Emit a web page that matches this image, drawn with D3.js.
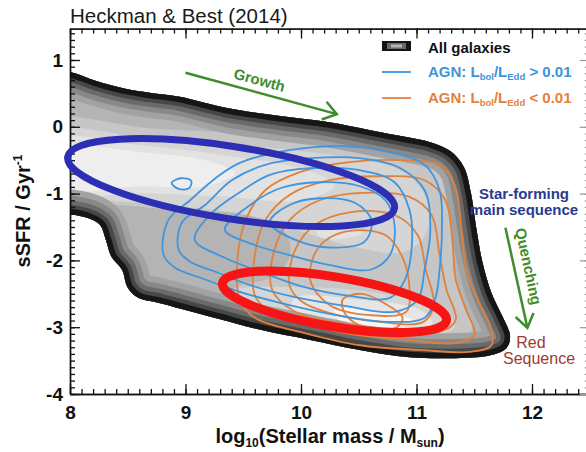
<!DOCTYPE html>
<html>
<head>
<meta charset="utf-8" />
<title>Heckman &amp; Best (2014)</title>
<script src="https://cdn.jsdelivr.net/npm/d3@7"></script>
<style>
  body { margin: 0; background: #fff; }
  svg { display: block; font-family: "Liberation Sans", Arial, Helvetica, sans-serif; }
</style>
</head>
<body>
<svg id="chart" width="586" height="452"></svg>
<script>
// axis ticks
var massTicks = [8, 9, 10, 11, 12];
var ssfrTicks = [-4, -3, -2, -1, 0, 1];

// outline of the all-galaxies density (log M*, log sSFR)
var galaxyEdge = [[7.70,0.86],[8.00,0.82],[8.22,0.69],[8.48,0.57],[8.69,0.51],[8.95,0.45],[9.36,0.28],[9.82,0.16],[10.23,0.07],[10.60,-0.05],[10.90,-0.15],[11.12,-0.23],[11.29,-0.36],[11.41,-0.60],[11.47,-0.98],[11.52,-1.54],[11.57,-2.02],[11.65,-2.49],[11.75,-2.86],[11.81,-3.13],[11.78,-3.31],[11.64,-3.42],[11.38,-3.46],[10.94,-3.45],[10.51,-3.34],[10.08,-3.19],[9.65,-3.04],[9.30,-2.88],[9.04,-2.76],[8.78,-2.64],[8.59,-2.56],[8.50,-2.41],[8.45,-2.14],[8.36,-1.95],[8.31,-1.69],[8.26,-1.47],[8.16,-1.37],[8.00,-1.31],[7.70,-1.27]];

// lighter (denser) levels inside it
var denseWide = [[7.70,0.07],[8.69,-0.02],[9.56,-0.11],[10.42,-0.24],[11.03,-0.45],[11.23,-0.77],[11.29,-1.40],[11.33,-2.14],[11.41,-2.71],[11.48,-3.04],[11.20,-3.19],[10.68,-3.15],[10.16,-3.01],[9.66,-2.83],[9.34,-2.64],[9.43,-2.41],[9.73,-2.26],[9.90,-1.96],[9.86,-1.57],[9.52,-1.32],[8.95,-1.25],[8.43,-1.17],[7.70,-1.10]];
var denseStarForming = [[7.70,-0.08],[8.69,-0.17],[9.56,-0.29],[10.34,-0.44],[10.86,-0.65],[11.07,-1.02],[11.09,-1.57],[10.90,-1.87],[10.47,-1.80],[10.10,-1.62],[9.60,-1.34],[8.95,-1.19],[8.26,-1.10],[7.70,-1.05]];
var denseRedSeq = [[9.40,-2.47],[9.99,-2.40],[10.68,-2.49],[11.20,-2.71],[11.33,-3.00],[11.03,-3.15],[10.42,-3.07],[9.82,-2.89],[9.46,-2.68]];
var ridgeStarForming = [[7.70,-0.20],[8.69,-0.29],[9.39,-0.44],[9.99,-0.62],[10.29,-0.87],[10.03,-1.10],[9.30,-1.04],[8.61,-0.99],[7.70,-0.98]];
var peakStarForming = [[7.70,-0.32],[8.61,-0.38],[9.17,-0.50],[9.43,-0.69],[9.17,-0.89],[8.61,-0.89],[7.70,-0.92]];
var ridgeRedSeq = [[9.95,-2.56],[10.51,-2.59],[11.03,-2.74],[11.14,-2.95],[10.73,-3.04],[10.16,-2.91],[9.92,-2.74]];
var peakRedSeq = [[10.29,-2.74],[10.81,-2.80],[10.99,-2.92],[10.68,-3.00],[10.33,-2.89]];
var greenValleySpot = [[10.15,-1.51],[10.38,-1.48],[10.53,-1.59],[10.34,-1.68],[10.15,-1.63]];

// AGN with L_bol/L_Edd > 0.01, outer to inner
var agnHigh = [
  [[8.81,-1.92],[8.85,-1.40],[9.04,-1.10],[9.26,-0.77],[9.47,-0.54],[9.90,-0.35],[10.38,-0.29],[10.77,-0.38],[11.07,-0.57],[11.20,-0.95],[11.22,-1.54],[11.20,-2.14],[11.16,-2.59],[11.07,-2.86],[10.77,-2.92],[10.34,-2.83],[9.90,-2.67],[9.47,-2.47],[9.13,-2.26],[8.91,-2.11]],
  [[8.94,-1.84],[8.97,-1.43],[9.17,-1.17],[9.40,-0.80],[9.69,-0.57],[10.08,-0.47],[10.51,-0.47],[10.86,-0.62],[11.07,-0.95],[11.12,-1.54],[11.07,-2.14],[11.01,-2.59],[10.81,-2.77],[10.38,-2.68],[9.95,-2.55],[9.56,-2.37],[9.26,-2.17],[9.04,-2.02]],
  [[9.08,-1.69],[9.21,-1.32],[9.47,-0.98],[9.73,-0.72],[10.08,-0.62],[10.51,-0.65],[10.81,-0.83],[10.94,-1.25],[10.96,-1.77],[10.90,-2.29],[10.77,-2.56],[10.42,-2.53],[9.99,-2.38],[9.65,-2.17],[9.34,-1.96]],
  [[9.34,-1.54],[9.56,-1.17],[9.82,-0.92],[10.16,-0.83],[10.51,-0.89],[10.73,-1.10],[10.81,-1.47],[10.77,-1.92],[10.60,-2.14],[10.25,-2.07],[9.90,-1.92],[9.60,-1.77]],
  [[9.73,-1.43],[9.90,-1.17],[10.16,-1.07],[10.47,-1.14],[10.61,-1.40],[10.55,-1.72],[10.29,-1.81],[9.99,-1.72]],
  [[8.88,-0.84],[8.96,-0.77],[9.05,-0.81],[9.03,-0.92],[8.94,-0.93]]
];

// AGN with L_bol/L_Edd < 0.01, outer to inner
var agnLow = [
  [[9.47,-2.59],[9.45,-1.99],[9.52,-1.40],[9.69,-0.95],[9.99,-0.68],[10.42,-0.53],[10.86,-0.50],[11.20,-0.57],[11.33,-0.87],[11.39,-1.54],[11.43,-2.14],[11.53,-2.59],[11.64,-3.00],[11.65,-3.27],[11.46,-3.37],[11.03,-3.34],[10.51,-3.27],[9.99,-3.07],[9.60,-2.86]],
  [[9.60,-2.52],[9.60,-1.92],[9.69,-1.40],[9.90,-1.02],[10.25,-0.80],[10.68,-0.74],[11.07,-0.80],[11.25,-1.10],[11.31,-1.69],[11.34,-2.29],[11.43,-2.74],[11.50,-3.12],[11.33,-3.24],[10.94,-3.19],[10.42,-3.10],[9.99,-2.92],[9.71,-2.74]],
  [[9.75,-2.44],[9.77,-1.84],[9.90,-1.40],[10.16,-1.10],[10.55,-0.99],[10.94,-1.05],[11.13,-1.32],[11.20,-1.92],[11.26,-2.44],[11.34,-2.89],[11.20,-3.07],[10.86,-3.04],[10.34,-2.94],[9.95,-2.77]],
  [[9.90,-2.37],[9.95,-1.84],[10.12,-1.47],[10.42,-1.28],[10.81,-1.32],[11.01,-1.62],[11.08,-2.14],[11.15,-2.67],[11.06,-2.92],[10.68,-2.92],[10.25,-2.79],[10.01,-2.62]],
  [[10.08,-2.29],[10.15,-1.81],[10.38,-1.57],[10.73,-1.62],[10.88,-1.96],[10.94,-2.44],[10.91,-2.77],[10.60,-2.82],[10.25,-2.67]],
  [[10.36,-2.59],[10.53,-2.50],[10.73,-2.65],[10.88,-2.86],[10.82,-3.01],[10.56,-3.00],[10.39,-2.82]]
];

// highlighted regions: two ends of the long axis + half width (dex)
var mainSequenceRing = [[7.98,-0.45],[10.81,-1.22]];
var mainSequenceHalf = 0.54;
var redSequenceRing = [[9.32,-2.34],[11.26,-2.90]];
var redSequenceHalf = 0.37;

var growthArrow = [[9.00,0.81],[10.31,0.19]];
var quenchArrow = [[11.77,-1.51],[11.96,-3.01]];

function draw() {
  var svg = d3.select('#chart');
  var font = '"Liberation Sans", Arial, Helvetica, sans-serif';

  var x = d3.scaleLinear().domain([8, 12.5]).range([70, 589.75]);
  var y = d3.scaleLinear().domain([-4, 1.47]).range([394, 28.6]);

  var blob = d3.line()
    .x(function (d) { return x(d[0]); })
    .y(function (d) { return y(d[1]); })
    .curve(d3.curveCatmullRomClosed.alpha(0.5));

  var defs = svg.append('defs');
  defs.append('clipPath').attr('id', 'plotClip').append('rect')
    .attr('x', x(8)).attr('y', y(1.47))
    .attr('width', x(12.5) - x(8)).attr('height', y(-4) - y(1.47));
  defs.append('clipPath').attr('id', 'edgeClip').append('path').attr('d', blob(galaxyEdge));

  var plot = svg.append('g').attr('clip-path', 'url(#plotClip)');
  var dens = plot.append('g').attr('clip-path', 'url(#edgeClip)');

  // all galaxies, filled levels
  dens.append('path').attr('d', blob(galaxyEdge)).attr('fill', '#b4b4b4');
  var levels = [
    [denseWide, '#c6c6c6'], [denseStarForming, '#d5d5d5'], [denseRedSeq, '#d5d5d5'],
    [greenValleySpot, '#e2e2e2'], [ridgeStarForming, '#e2e2e2'], [ridgeRedSeq, '#e6e6e6'],
    [peakStarForming, '#eeeeee'], [peakRedSeq, '#f6f6f6']
  ];
  dens.selectAll('path.level').data(levels).enter().append('path')
    .attr('class', 'level')
    .attr('d', function (d) { return blob(d[0]); })
    .attr('fill', function (d) { return d[1]; });

  // darker outskirts, drawn as strokes clipped to the outline
  var rims = [[50, '#a2a2a2'], [38, '#888888'], [28, '#6a6a6a'], [19, '#474747'], [11, '#161616']];
  dens.selectAll('path.rim').data(rims).enter().append('path')
    .attr('class', 'rim')
    .attr('d', blob(galaxyEdge))
    .attr('fill', 'none')
    .attr('stroke', function (d) { return d[1]; })
    .attr('stroke-width', function (d) { return d[0]; })
    .attr('stroke-linejoin', 'round');

  // AGN contours
  plot.selectAll('path.low').data(agnLow).enter().append('path')
    .attr('class', 'low').attr('d', blob)
    .attr('fill', 'none').attr('stroke', '#e0813c').attr('stroke-width', 1.8);
  plot.selectAll('path.high').data(agnHigh).enter().append('path')
    .attr('class', 'high').attr('d', blob)
    .attr('fill', 'none').attr('stroke', '#3f95df').attr('stroke-width', 1.8);

  // axes
  var styleAxis = function (g) {
    g.attr('font-family', font).attr('font-size', 19).attr('font-weight', 'bold');
    g.selectAll('.domain').attr('stroke', '#111').attr('stroke-width', 1.4);
    g.selectAll('line').attr('stroke', '#111').attr('stroke-width', 1.3);
    g.selectAll('text').attr('fill', '#111');
  };
  var minorX = d3.range(80, 126).map(function (v) { return v / 10; });
  var minorY = d3.range(-40, 15).map(function (v) { return v / 10; });
  var fmt = function (d) { return String(d); };

  svg.append('g').attr('transform', 'translate(0,' + y(-4) + ')')
    .call(d3.axisBottom(x).tickValues(minorX).tickSize(-5).tickSizeOuter(0).tickFormat(''))
    .call(styleAxis);
  svg.append('g').attr('transform', 'translate(0,' + y(-4) + ')')
    .call(d3.axisBottom(x).tickValues(massTicks).tickSize(-10).tickSizeOuter(0).tickPadding(12).tickFormat(fmt))
    .call(styleAxis);
  svg.append('g').attr('transform', 'translate(0,' + y(1.47) + ')')
    .call(d3.axisTop(x).tickValues(minorX).tickSize(-5).tickSizeOuter(0).tickFormat(''))
    .call(styleAxis);
  svg.append('g').attr('transform', 'translate(0,' + y(1.47) + ')')
    .call(d3.axisTop(x).tickValues(massTicks).tickSize(-10).tickSizeOuter(0).tickFormat(''))
    .call(styleAxis);
  svg.append('g').attr('transform', 'translate(' + x(8) + ',0)')
    .call(d3.axisLeft(y).tickValues(minorY).tickSize(-5).tickSizeOuter(0).tickFormat(''))
    .call(styleAxis);
  svg.append('g').attr('transform', 'translate(' + x(8) + ',0)')
    .call(d3.axisLeft(y).tickValues(ssfrTicks).tickSize(-10).tickSizeOuter(0).tickPadding(7).tickFormat(fmt))
    .call(styleAxis);
  var right = svg.append('g').attr('transform', 'translate(' + x(12.5) + ',0)');
  right.call(d3.axisRight(y).tickValues(minorY).tickSize(-5).tickSizeOuter(0).tickFormat(''));
  right.append('g').call(d3.axisRight(y).tickValues(ssfrTicks).tickSize(-10).tickSizeOuter(0).tickFormat(''));
  right.selectAll('path, line').attr('stroke', '#999').attr('stroke-width', 1.2);

  // highlight rings
  var ring = function (ends, half, color, width) {
    var p1 = [x(ends[0][0]), y(ends[0][1])], p2 = [x(ends[1][0]), y(ends[1][1])];
    var ang = Math.atan2(p2[1] - p1[1], p2[0] - p1[0]) * 180 / Math.PI;
    svg.append('ellipse')
      .attr('transform', 'translate(' + (p1[0] + p2[0]) / 2 + ',' + (p1[1] + p2[1]) / 2 + ') rotate(' + ang + ')')
      .attr('rx', Math.hypot(p2[0] - p1[0], p2[1] - p1[1]) / 2)
      .attr('ry', y(0) - y(half))
      .attr('fill', 'none').attr('stroke', color).attr('stroke-width', width);
  };
  ring(mainSequenceRing, mainSequenceHalf, '#2c2eb4', 7);
  ring(redSequenceRing, redSequenceHalf, '#f71414', 9);

  // growth / quenching arrows
  var green = '#3f8c2c';
  var arrow = function (ends) {
    var p1 = [x(ends[0][0]), y(ends[0][1])], p2 = [x(ends[1][0]), y(ends[1][1])];
    var a = Math.atan2(p2[1] - p1[1], p2[0] - p1[0]);
    var L = 16, s = 35 * Math.PI / 180;
    svg.append('line').attr('x1', p1[0]).attr('y1', p1[1]).attr('x2', p2[0]).attr('y2', p2[1])
      .attr('stroke', green).attr('stroke-width', 2.5);
    svg.append('path')
      .attr('d', 'M' + (p2[0] - L * Math.cos(a - s)) + ',' + (p2[1] - L * Math.sin(a - s)) +
        'L' + p2[0] + ',' + p2[1] +
        'L' + (p2[0] - L * Math.cos(a + s)) + ',' + (p2[1] - L * Math.sin(a + s)))
      .attr('fill', 'none').attr('stroke', green).attr('stroke-width', 2.5);
    return a * 180 / Math.PI;
  };
  var gAng = arrow(growthArrow);
  var qAng = arrow(quenchArrow);

  svg.append('text')
    .attr('transform', 'translate(' + x(9.64) + ',' + y(0.70) + ') rotate(' + gAng + ')')
    .attr('text-anchor', 'middle').attr('dy', '0.35em')
    .attr('font-size', 15).attr('font-weight', 'bold').attr('fill', green)
    .text('Growth');
  svg.append('text')
    .attr('transform', 'translate(' + x(11.97) + ',' + y(-2.09) + ') rotate(' + qAng + ')')
    .attr('text-anchor', 'middle').attr('dy', '0.35em')
    .attr('font-size', 15).attr('font-weight', 'bold').attr('fill', green)
    .text('Quenching');

  var note = function (px, py, txt, color, weight, size) {
    svg.append('text').attr('x', px).attr('y', py).attr('text-anchor', 'middle')
      .attr('font-size', size).attr('font-weight', weight).attr('fill', color).text(txt);
  };
  note(524, 199, 'Star-forming', '#2a3a8e', 'bold', 15);
  note(524, 215, 'main sequence', '#2a3a8e', 'bold', 15);
  note(531, 348, 'Red', '#9e3a2f', 'normal', 16);
  note(539, 364, 'Sequence', '#9e3a2f', 'normal', 16);

  // legend
  var lg = svg.append('g');
  lg.append('rect').attr('x', 382).attr('y', 41).attr('width', 29).attr('height', 10).attr('fill', '#151515');
  lg.append('rect').attr('x', 387).attr('y', 43).attr('width', 19).attr('height', 6).attr('fill', '#6a6a6a');
  lg.append('rect').attr('x', 391).attr('y', 44.5).attr('width', 11).attr('height', 3).attr('fill', '#b4b4b4');
  lg.append('text').attr('x', 428).attr('y', 53).attr('font-size', 15).attr('font-weight', 'bold')
    .attr('fill', '#111').text('All galaxies');

  var agnRow = function (py, color, sign) {
    lg.append('line').attr('x1', 382).attr('x2', 411).attr('y1', py).attr('y2', py)
      .attr('stroke', color).attr('stroke-width', 1.8);
    var t = lg.append('text').attr('x', 428).attr('y', py + 5).attr('font-size', 15)
      .attr('font-weight', 'bold').attr('fill', color);
    t.append('tspan').text('AGN: L');
    t.append('tspan').attr('font-size', 9.5).attr('dy', 3).text('bol');
    t.append('tspan').attr('dy', -3).text('/L');
    t.append('tspan').attr('font-size', 9.5).attr('dy', 3).text('Edd');
    t.append('tspan').attr('dy', -3).text(' ' + sign + ' 0.01');
  };
  agnRow(72, '#3b94e0', '>');
  agnRow(98, '#e8803a', '<');

  // titles
  svg.append('text').attr('x', 70).attr('y', 23).attr('font-size', 20.5).attr('fill', '#1a1a1a')
    .text('Heckman & Best (2014)');

  var xl = svg.append('text').attr('x', 330).attr('y', 443).attr('text-anchor', 'middle')
    .attr('font-size', 20).attr('font-weight', 'bold').attr('fill', '#111');
  xl.append('tspan').text('log');
  xl.append('tspan').attr('font-size', 12).attr('dy', 4).text('10');
  xl.append('tspan').attr('dy', -4).text('(Stellar mass / M');
  xl.append('tspan').attr('font-size', 12).attr('dy', 4).text('sun');
  xl.append('tspan').attr('dy', -4).text(')');

  var yl = svg.append('text').attr('transform', 'translate(30,211) rotate(-90)')
    .attr('text-anchor', 'middle').attr('font-size', 20).attr('font-weight', 'bold').attr('fill', '#111');
  yl.append('tspan').text('sSFR / Gyr');
  yl.append('tspan').attr('font-size', 12).attr('dy', -8).text('-1');
}

draw();
</script>
</body>
</html>
